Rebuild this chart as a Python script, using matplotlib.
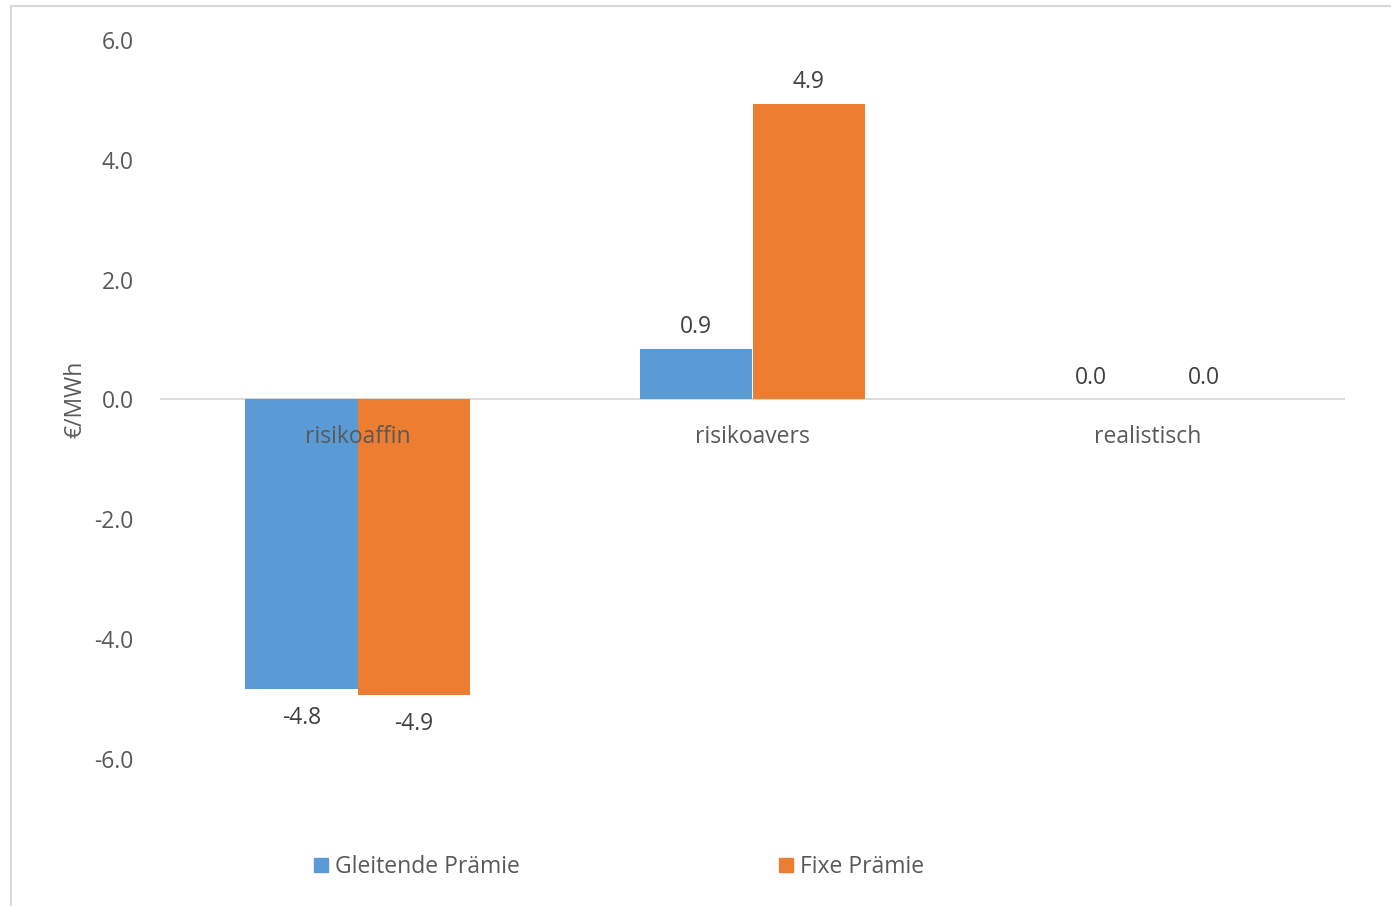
import matplotlib
matplotlib.use("Agg")
import matplotlib.pyplot as plt
from matplotlib.patches import Rectangle
from matplotlib.lines import Line2D

categories = ["risikoaffin", "risikoavers", "realistisch"]
gleitende = [-4.83, 0.85, 0.0]
fixe = [-4.93, 4.93, 0.0]
gleitende_labels = ["-4.8", "0.9", "0.0"]
fixe_labels = ["-4.9", "4.9", "0.0"]
series_names = ["Gleitende Prämie", "Fixe Prämie"]
yticks = [-6, -4, -2, 0, 2, 4, 6]

BLUE = "#5B9BD5"
ORANGE = "#ED7D31"
TXT = "#595959"
FONT = "Open Sans"
FS = 16.5

W, H = 1391, 906
fig = plt.figure(figsize=(W / 100, H / 100), dpi=100)
ax = fig.add_axes([160 / W, 1 - 759 / H, (1345 - 160) / W, (759 - 40) / H])

x = list(range(len(categories)))
bw = 0.285
xb = [i - bw / 2 for i in x]
xo = [i + bw / 2 for i in x]
ax.bar(xb, gleitende, width=bw, color=BLUE, lw=0, antialiased=False, zorder=2)
ax.bar(xo, fixe, width=bw, color=ORANGE, lw=0, antialiased=False, zorder=2)

ax.set_xlim(-0.5, 2.5)
ax.set_ylim(-6, 6)
ax.axhline(0, color="#D9D9D9", lw=1.3, zorder=1)
for s in ax.spines.values():
    s.set_visible(False)
ax.set_xticks([])
ax.set_yticks(yticks)
ax.set_yticklabels([f"{v:.1f}" for v in yticks], fontsize=FS, color=TXT, family=FONT)
ax.tick_params(axis="y", length=0, pad=19)
ax.set_ylabel("€/MWh", fontsize=FS, color=TXT, family=FONT, labelpad=5)

for i, c in enumerate(categories):
    ax.annotate(c, (i, 0), xytext=(0, -38), textcoords="offset pixels",
                ha="center", va="center", fontsize=FS, color=TXT, family=FONT, zorder=3)

def vlabel(xs, vals, labs):
    for xi, v, lab in zip(xs, vals, labs):
        off = -29 if v < 0 else 22
        ax.annotate(lab, (xi, v), xytext=(0, off), textcoords="offset pixels",
                    ha="center", va="center", fontsize=FS, color="#404040", family=FONT)

vlabel(xb, gleitende, gleitende_labels)
vlabel(xo, fixe, fixe_labels)

# legend
for (sx, tx, col, name) in [(314, 335, BLUE, series_names[0]), (779, 800, ORANGE, series_names[1])]:
    fig.patches.append(Rectangle((sx / W, 1 - 872 / H), 14 / W, 14 / H,
                                 transform=fig.transFigure, color=col))
    fig.text(tx / W, 1 - 867 / H, name, ha="left", va="center", fontsize=FS,
             color=TXT, family=FONT)

# chart frame (left & top visible)
fig.add_artist(Line2D([10.5 / W, 10.5 / W], [0, 1 - 5.5 / H], transform=fig.transFigure,
                      color="#D9D9D9", lw=1.5))
fig.add_artist(Line2D([10.5 / W, 1], [1 - 5.5 / H, 1 - 5.5 / H], transform=fig.transFigure,
                      color="#D9D9D9", lw=1.5))

fig.savefig("out.png", dpi=100)
